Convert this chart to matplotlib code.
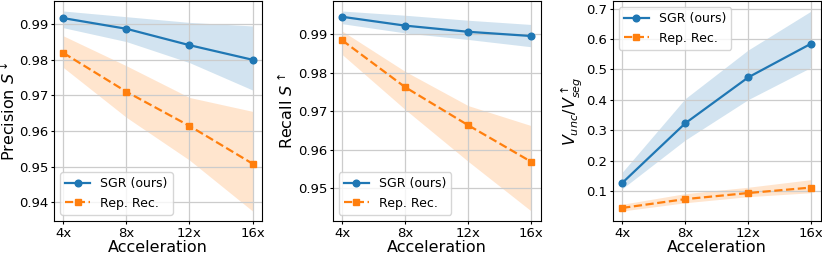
import matplotlib
matplotlib.use("Agg")
import matplotlib.pyplot as plt

# accelerazioni
accel = [4, 8, 12, 16]
accel_labels = ["4x", "8x", "12x", "16x"]

# Precision
prec_sgr = [0.9917, 0.9887, 0.9841, 0.9800]
prec_sgr_lo = [0.9890, 0.9851, 0.9792, 0.9715]
prec_sgr_hi = [0.9937, 0.9921, 0.9905, 0.9895]
prec_rep = [0.9819, 0.9710, 0.9614, 0.9508]
prec_rep_lo = [0.9778, 0.9638, 0.9518, 0.9375]
prec_rep_hi = [0.9867, 0.9783, 0.9694, 0.9655]

# Recall
rec_sgr = [0.9946, 0.9923, 0.9907, 0.9896]
rec_sgr_lo = [0.9928, 0.9904, 0.9887, 0.9868]
rec_sgr_hi = [0.9961, 0.9950, 0.9937, 0.9926]
rec_rep = [0.9885, 0.9763, 0.9664, 0.9569]
rec_rep_lo = [0.9848, 0.9705, 0.9570, 0.9441]
rec_rep_hi = [0.9909, 0.9804, 0.9715, 0.9663]

# V_unc / V_seg
vol_sgr = [0.127, 0.323, 0.474, 0.585]
vol_sgr_lo = [0.108, 0.268, 0.401, 0.507]
vol_sgr_hi = [0.162, 0.404, 0.564, 0.692]
vol_rep = [0.045, 0.074, 0.094, 0.112]
vol_rep_lo = [0.035, 0.062, 0.082, 0.095]
vol_rep_hi = [0.057, 0.092, 0.113, 0.138]

panels = [
    (prec_sgr, prec_sgr_lo, prec_sgr_hi, prec_rep, prec_rep_lo, prec_rep_hi,
     r"Precision $S^{\downarrow}$", "lower left"),
    (rec_sgr, rec_sgr_lo, rec_sgr_hi, rec_rep, rec_rep_lo, rec_rep_hi,
     r"Recall $S^{\uparrow}$", "lower left"),
    (vol_sgr, vol_sgr_lo, vol_sgr_hi, vol_rep, vol_rep_lo, vol_rep_hi,
     r"$V_{unc}/V_{seg}^{\uparrow}$", "upper left"),
]

fig = plt.figure(figsize=(8.22, 2.54), dpi=100)
lefts = [0.0657, 0.4047, 0.7454]

for left, (s, s_lo, s_hi, r, r_lo, r_hi, ylabel, loc) in zip(lefts, panels):
    ax = fig.add_axes([left, 0.130, 0.253, 0.866])
    ax.fill_between(accel, s_lo, s_hi, color="tab:blue", alpha=0.2, linewidth=0)
    ax.fill_between(accel, r_lo, r_hi, color="tab:orange", alpha=0.2, linewidth=0)
    ax.plot(accel, s, color="tab:blue", marker="o", markersize=4.8,
            linewidth=1.6, label="SGR (ours)")
    ax.plot(accel, r, color="tab:orange", marker="s", markersize=4.8,
            linewidth=1.6, linestyle="--", label="Rep. Rec.")
    ax.set_xticks(accel)
    ax.set_xticklabels(accel_labels)
    ax.tick_params(axis="both", labelsize=9.5, length=2.5, pad=1.5)
    ax.set_xlabel("Acceleration", fontsize=11.5, labelpad=0)
    ax.set_ylabel(ylabel, fontsize=11.5, labelpad=1)
    ax.grid(True, color="#cccccc", linewidth=0.9)
    ax.legend(loc=loc, fontsize=9)

fig.savefig("out.png", dpi=100)
